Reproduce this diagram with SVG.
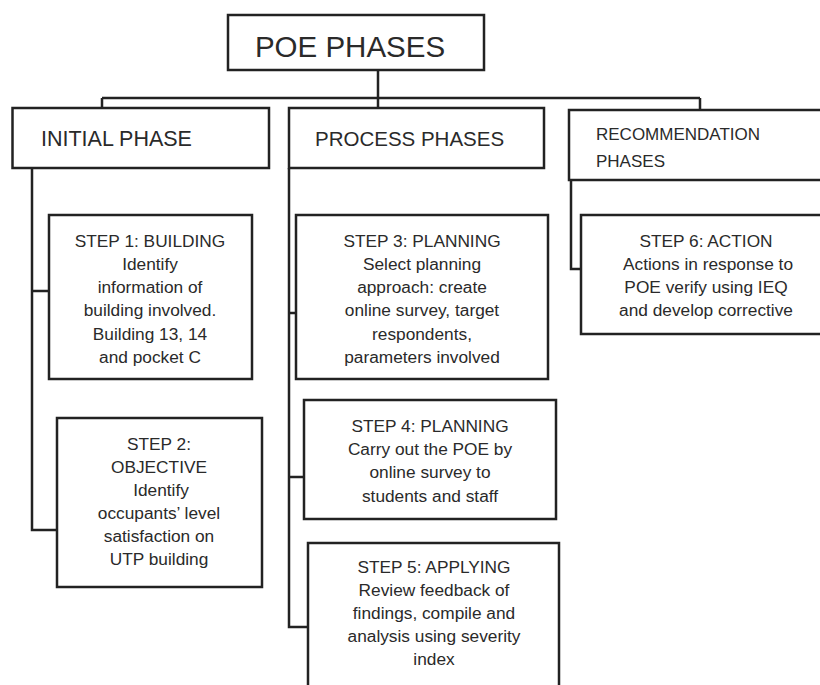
<svg xmlns="http://www.w3.org/2000/svg" width="820" height="685" viewBox="0 0 820 685">
<style>
.box{fill:#fff;stroke:#222;stroke-width:2.5}
.ln{fill:none;stroke:#222;stroke-width:2.5}
text{font-family:"Liberation Sans",Arial,sans-serif;fill:#2a2a2a}
.t{font-size:17.3px;text-anchor:middle}
</style>
<rect width="820" height="685" fill="#fff"/>
<g id="connectors">
<path class="ln" d="M378,70 V98 M102,98 H700 M102,98 V108 M378,98 V108 M700,98 V110"/>
<path class="ln" d="M32,168 V530 H57 M32,291 H49"/>
<path class="ln" d="M289,168 V627 H308 M289,313 H296 M289,477 H304"/>
<path class="ln" d="M571,180 V269 H581"/>
</g>
<g id="poe-phases">
<rect class="box" x="228" y="15" width="256" height="55"/>
<text x="350" y="57" font-size="29.5" text-anchor="middle">POE PHASES</text>
</g>
<g id="initial-phase">
<rect class="box" x="12.5" y="108" width="256.5" height="60"/>
<text x="41" y="146" font-size="21.5">INITIAL PHASE</text>
</g>
<g id="process-phases">
<rect class="box" x="289" y="108" width="255" height="60"/>
<text x="315" y="146" font-size="20.5">PROCESS PHASES</text>
</g>
<g id="recommendation-phases">
<rect class="box" x="569" y="110" width="260" height="70"/>
<text x="596" y="140" font-size="17">RECOMMENDATION</text>
<text x="596" y="167" font-size="17">PHASES</text>
</g>
<g id="step1">
<rect class="box" x="49" y="215" width="203" height="164"/>
<text class="t" x="150" y="247">STEP 1: BUILDING</text>
<text class="t" x="150" y="270">Identify</text>
<text class="t" x="150" y="293">information of</text>
<text class="t" x="150" y="316">building involved.</text>
<text class="t" x="150" y="340">Building 13, 14</text>
<text class="t" x="150" y="363">and pocket C</text>
</g>
<g id="step2">
<rect class="box" x="57" y="418" width="205" height="169"/>
<text class="t" x="159" y="450">STEP 2:</text>
<text class="t" x="159" y="473">OBJECTIVE</text>
<text class="t" x="161" y="496">Identify</text>
<text class="t" x="159" y="519">occupants’ level</text>
<text class="t" x="159" y="542">satisfaction on</text>
<text class="t" x="159" y="565">UTP building</text>
</g>
<g id="step3">
<rect class="box" x="296" y="215" width="252" height="164"/>
<text class="t" x="422" y="247">STEP 3: PLANNING</text>
<text class="t" x="422" y="270">Select planning</text>
<text class="t" x="422" y="293">approach: create</text>
<text class="t" x="422" y="316">online survey, target</text>
<text class="t" x="422" y="340">respondents,</text>
<text class="t" x="422" y="363">parameters involved</text>
</g>
<g id="step4">
<rect class="box" x="304" y="400" width="252" height="119"/>
<text class="t" x="430" y="432">STEP 4: PLANNING</text>
<text class="t" x="430" y="455">Carry out the POE by</text>
<text class="t" x="430" y="478">online survey to</text>
<text class="t" x="430" y="502">students and staff</text>
</g>
<g id="step5">
<rect class="box" x="308" y="543" width="251" height="150"/>
<text class="t" x="434" y="573">STEP 5: APPLYING</text>
<text class="t" x="434" y="596">Review feedback of</text>
<text class="t" x="434" y="619">findings, compile and</text>
<text class="t" x="434" y="642">analysis using severity</text>
<text class="t" x="434" y="665">index</text>
</g>
<g id="step6">
<rect class="box" x="581" y="215" width="250" height="119"/>
<text class="t" x="706" y="247">STEP 6: ACTION</text>
<text class="t" x="708" y="270">Actions in response to</text>
<text class="t" x="706" y="293">POE verify using IEQ</text>
<text class="t" x="706" y="316">and develop corrective</text>
</g>
</svg>
